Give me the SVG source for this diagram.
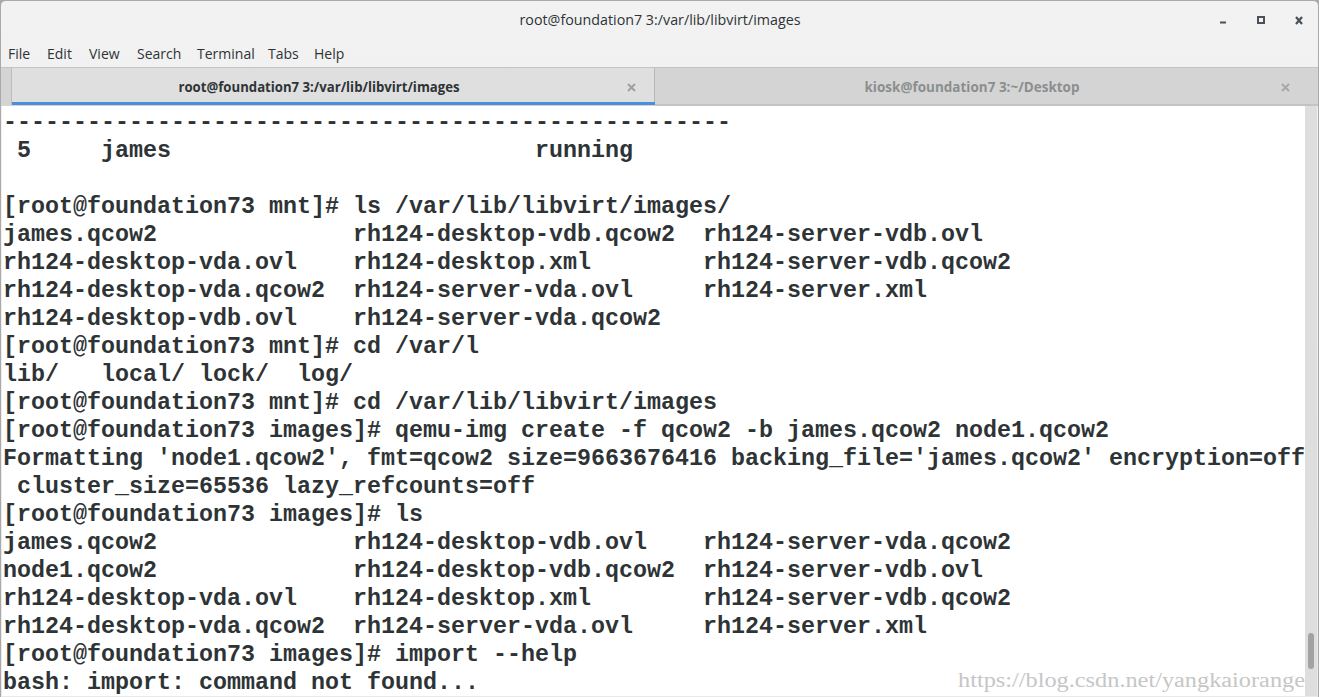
<svg xmlns="http://www.w3.org/2000/svg" width="1319" height="697" viewBox="0 0 1319 697">
<defs>
<linearGradient id="tb" x1="0" y1="0" x2="0" y2="1">
<stop offset="0" stop-color="#f2f2f2"/>
<stop offset="1" stop-color="#e9e9e9"/>
</linearGradient>
<style>
.ui{font-family:"Open Sans","Noto Sans","DejaVu Sans",sans-serif;font-size:14px;fill:#2e3436}
.tab{font-family:"Open Sans","Noto Sans","DejaVu Sans",sans-serif;font-size:13.5px;font-weight:bold}
.t{font-family:"Liberation Mono","Courier New",monospace;font-size:23.33px;font-weight:bold;fill:#2e3436;white-space:pre}
.wm{font-family:"Liberation Serif","DejaVu Serif",serif;font-size:20px;fill:#c6c6c6}
.ctl{fill:#4a5055}
</style>
</defs>
<g id="window">
<rect x="0" y="0" width="1319" height="697" fill="#a9a9a9"/>
<path d="M1 697 V6 Q1 1 6 1 H1313 Q1318 1 1318 6 V697 Z" fill="url(#tb)"/>
</g>
<g id="titlebar">
<text class="ui" x="660" y="25" text-anchor="middle" font-size="13.5" textLength="281" lengthAdjust="spacingAndGlyphs">root@foundation7 3:/var/lib/libvirt/images</text>
<rect class="ctl" x="1220" y="21.5" width="6" height="2"/>
<rect x="1258" y="17" width="6" height="6" fill="none" stroke="#4a5055" stroke-width="2"/>
<path d="M1296 17 L1302 24 M1302 17 L1296 24" stroke="#4a5055" stroke-width="2.2"/>
</g>
<g id="menubar">
<text class="ui" x="8" y="59">File</text>
<text class="ui" x="47" y="59">Edit</text>
<text class="ui" x="89" y="59">View</text>
<text class="ui" x="137" y="59">Search</text>
<text class="ui" x="197" y="59">Terminal</text>
<text class="ui" x="268" y="59">Tabs</text>
<text class="ui" x="314" y="59">Help</text>
</g>
<g id="tabs">
<rect x="1" y="67" width="1317" height="39" fill="#d4d4d4"/>
<line x1="1" y1="67.5" x2="1318" y2="67.5" stroke="#c4c4c4"/>
<rect x="12" y="68" width="642" height="35" fill="#dfdfdf"/>
<line x1="11.5" y1="68" x2="11.5" y2="105" stroke="#bdbdbd"/>
<line x1="654.5" y1="68" x2="654.5" y2="105" stroke="#b8b8b8"/>
<rect x="12" y="102" width="643" height="3" fill="#4a90d9"/>
<line x1="655" y1="105" x2="1318" y2="105" stroke="#b3b3b3"/>
<text class="tab" x="319" y="92" text-anchor="middle" fill="#2e3436" textLength="281" lengthAdjust="spacingAndGlyphs">root@foundation7 3:/var/lib/libvirt/images</text>
<path d="M628 84 L635 91 M635 84 L628 91" stroke="#a0a0a0" stroke-width="2"/>
<text class="tab" x="972" y="92" text-anchor="middle" fill="#8b8e8f" textLength="215" lengthAdjust="spacingAndGlyphs">kiosk@foundation7 3:~/Desktop</text>
<path d="M1282 84 L1289 91 M1289 84 L1282 91" stroke="#a8a8a8" stroke-width="2"/>
</g>
<g id="terminal">
<rect x="2" y="106" width="1303" height="590" fill="#ffffff"/>
<rect x="1305" y="106" width="12" height="590" fill="#dedede"/>
<rect x="1308" y="633" width="6" height="36" rx="3" fill="#a2a2a2"/>
<text class="t" x="3" y="129" xml:space="preserve">----------------------------------------------------</text>
<text class="t" x="3" y="157" xml:space="preserve"> 5     james                          running</text>
<text class="t" x="3" y="213" xml:space="preserve">[root@foundation73 mnt]# ls /var/lib/libvirt/images/</text>
<text class="t" x="3" y="241" xml:space="preserve">james.qcow2              rh124-desktop-vdb.qcow2  rh124-server-vdb.ovl</text>
<text class="t" x="3" y="269" xml:space="preserve">rh124-desktop-vda.ovl    rh124-desktop.xml        rh124-server-vdb.qcow2</text>
<text class="t" x="3" y="297" xml:space="preserve">rh124-desktop-vda.qcow2  rh124-server-vda.ovl     rh124-server.xml</text>
<text class="t" x="3" y="325" xml:space="preserve">rh124-desktop-vdb.ovl    rh124-server-vda.qcow2</text>
<text class="t" x="3" y="353" xml:space="preserve">[root@foundation73 mnt]# cd /var/l</text>
<text class="t" x="3" y="381" xml:space="preserve">lib/   local/ lock/  log/</text>
<text class="t" x="3" y="409" xml:space="preserve">[root@foundation73 mnt]# cd /var/lib/libvirt/images</text>
<text class="t" x="3" y="437" xml:space="preserve">[root@foundation73 images]# qemu-img create -f qcow2 -b james.qcow2 node1.qcow2</text>
<text class="t" x="3" y="465" xml:space="preserve">Formatting 'node1.qcow2', fmt=qcow2 size=9663676416 backing_file='james.qcow2' encryption=off</text>
<text class="t" x="3" y="493" xml:space="preserve"> cluster_size=65536 lazy_refcounts=off</text>
<text class="t" x="3" y="521" xml:space="preserve">[root@foundation73 images]# ls</text>
<text class="t" x="3" y="549" xml:space="preserve">james.qcow2              rh124-desktop-vdb.ovl    rh124-server-vda.qcow2</text>
<text class="t" x="3" y="577" xml:space="preserve">node1.qcow2              rh124-desktop-vdb.qcow2  rh124-server-vdb.ovl</text>
<text class="t" x="3" y="605" xml:space="preserve">rh124-desktop-vda.ovl    rh124-desktop.xml        rh124-server-vdb.qcow2</text>
<text class="t" x="3" y="633" xml:space="preserve">rh124-desktop-vda.qcow2  rh124-server-vda.ovl     rh124-server.xml</text>
<text class="t" x="3" y="661" xml:space="preserve">[root@foundation73 images]# import --help</text>
<text class="t" x="3" y="689" xml:space="preserve">bash: import: command not found...</text>
<text class="wm" x="958" y="687" textLength="347" lengthAdjust="spacingAndGlyphs">https://blog.csdn.net/yangkaiorange</text>
</g>
</svg>
